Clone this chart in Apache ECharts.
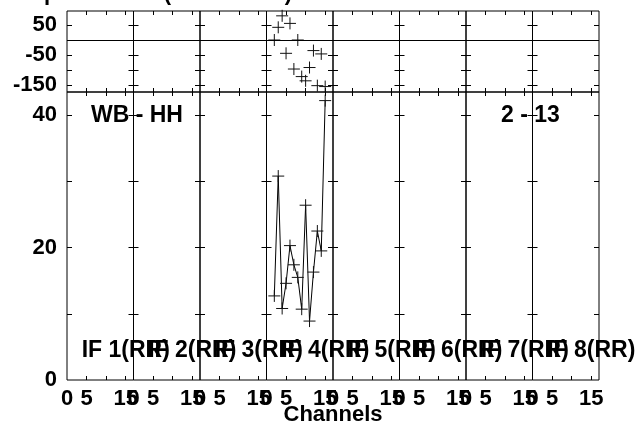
<!DOCTYPE html>
<html><head><meta charset="utf-8">
<script src="https://cdn.jsdelivr.net/npm/echarts@6/dist/echarts.min.js"></script>
<style>html,body{margin:0;padding:0;background:#fff}#c{width:642px;height:432px}</style>
</head><body><div id="c"></div>
<script>
// ---- data ----
const ifNumbers = [1, 2, 3, 4, 5, 6, 7, 8];
const ifPolarizations = ['RR', 'RR', 'RR', 'RR', 'RR', 'RR', 'RR', 'RR'];
const dataIF = 4;
const channels = [2, 3, 4, 5, 6, 7, 8, 9, 10, 11, 12, 13, 14, 15];
const amplitude = [12.7, 30.8, 10.8, 14.6, 20.3, 17.4, 15.5, 10.7, 26.4, 8.9, 16.3, 22.5, 19.5, 42.2];
const phase = [0, 42, 80, -44, 55, -96, 0, -121, -135, -91, -35, -151, -46, -154];
const channelTicks = [5, 10, 15];
const channelLabels = [0, 5, 15];
const ampTicks = [10, 20, 30, 40];
const ampLabels = [0, 20, 40];
const phaseTicks = [50, 0, -50, -100, -150];
const phaseLabels = [50, -50, -150];
const channelRange = [0, 17];
const ampRange = [0, 43.5];
const phaseRange = [-172, 96];
const titleText = 'Phase and Amp and B: IF (BP mode 1)';
const xAxisName = 'Channels';
const baselineLabel = 'WB - HH';
const timeLabel = '2 - 13';

// ---- layout ----
const L = 67, PW = 66.5, TOP1 = 11, H1 = 81, TOP2 = 92, H2 = 288;
const FONT = '"Liberation Sans", Arial, Helvetica, sans-serif';
const nP = ifNumbers.length;

const grid = [], xAxis = [], yAxis = [], series = [];
const crossSymbol = 'path://M5,0L5,10M0,5L10,5';

function addPanel(row, i) {
  const g = grid.length;
  grid.push({
    left: L + PW * i, top: row === 0 ? TOP1 : TOP2, width: PW, height: row === 0 ? H1 : H2,
    show: true, borderColor: '#000', borderWidth: 1, backgroundColor: 'transparent', containLabel: false
  });
  const isBottom = row === 1;
  const tick = (vals, len) => ({ show: true, inside: true, length: len, customValues: vals, lineStyle: { color: '#000', width: 1 } });
  xAxis.push({
    gridIndex: g, type: 'value', position: 'bottom', min: channelRange[0], max: channelRange[1],
    axisLine: { show: false, onZero: false }, splitLine: { show: false },
    axisTick: tick(channelTicks, 4),
    axisLabel: isBottom ? { show: true, customValues: channelLabels, showMinLabel: true, showMaxLabel: true, margin: 8, color: '#000', fontSize: 22, fontWeight: 'bold', fontFamily: FONT } : { show: false }
  });
  xAxis.push({
    gridIndex: g, type: 'value', position: 'top', min: channelRange[0], max: channelRange[1],
    axisLine: { show: false, onZero: false }, splitLine: { show: false },
    axisTick: tick(channelTicks, 4),
    axisLabel: { show: false }
  });
  const rng = row === 0 ? phaseRange : ampRange;
  const tks = row === 0 ? phaseTicks : ampTicks;
  const lbs = row === 0 ? phaseLabels : ampLabels;
  yAxis.push({
    gridIndex: g, type: 'value', position: 'left', min: rng[0], max: rng[1],
    axisLine: { show: false, onZero: false }, splitLine: { show: false },
    axisTick: tick(tks, 5),
    axisLabel: i === 0 ? { show: true, customValues: lbs, showMinLabel: true, showMaxLabel: true, margin: 10, color: '#000', fontSize: 22, fontWeight: 'bold', fontFamily: FONT, padding: row === 0 ? [4, 0, 0, 0] : 0 } : { show: false }
  });
  yAxis.push({
    gridIndex: g, type: 'value', position: 'right', min: rng[0], max: rng[1],
    axisLine: { show: false, onZero: false }, splitLine: { show: false },
    axisTick: tick(tks, 5),
    axisLabel: { show: false }
  });
  return g;
}

const topIdx = [], botIdx = [];
for (let i = 0; i < nP; i++) topIdx.push(addPanel(0, i));
for (let i = 0; i < nP; i++) botIdx.push(addPanel(1, i));

// zero-phase reference line in every top panel
for (let i = 0; i < nP; i++) {
  const g = topIdx[i];
  series.push({
    type: 'line', xAxisIndex: 2 * g, yAxisIndex: 2 * g, data: [], silent: true,
    markLine: { silent: true, symbol: ['none', 'none'], animation: false, label: { show: false },
      lineStyle: { color: '#000', type: 'solid', width: 1 }, data: [{ yAxis: 0 }] }
  });
}

const di = ifNumbers.indexOf(dataIF);
const gTop = topIdx[di], gBot = botIdx[di];
series.push({
  type: 'scatter', xAxisIndex: 2 * gTop, yAxisIndex: 2 * gTop,
  data: channels.map((c, k) => [c, phase[k]]),
  symbol: crossSymbol, symbolSize: 12,
  itemStyle: { color: 'none', borderColor: '#111', borderWidth: 1, opacity: 1 },
  clip: false
});
series.push({
  type: 'line', xAxisIndex: 2 * gBot, yAxisIndex: 2 * gBot,
  data: channels.map((c, k) => [c, amplitude[k]]),
  symbol: crossSymbol, symbolSize: 12, showAllSymbol: true,
  lineStyle: { color: '#000', width: 1 },
  itemStyle: { color: 'none', borderColor: '#111', borderWidth: 1 },
  clip: false
});

const tfont = 'bold 22px ' + FONT;
const ifont = 'bold 23px ' + FONT;
const graphic = [
  { type: 'text', x: 292, y: 5, style: { text: titleText, font: tfont, fill: '#000', align: 'right', verticalAlign: 'bottom' } },
  { type: 'text', x: 91, y: 116, style: { text: baselineLabel, font: ifont, fill: '#000', align: 'left', verticalAlign: 'middle' } },
  { type: 'text', x: 501, y: 116, style: { text: timeLabel, font: ifont, fill: '#000', align: 'left', verticalAlign: 'middle' } },
  { type: 'text', x: L + PW * nP / 2, y: 415, style: { text: xAxisName, font: tfont, fill: '#000', align: 'center', verticalAlign: 'middle' } }
];
ifNumbers.forEach((n, i) => {
  graphic.push({ type: 'text', x: L + PW * i + 14.7, y: 351,
    style: { text: 'IF ' + n + '(' + ifPolarizations[i] + ')', font: ifont, fill: '#000', align: 'left', verticalAlign: 'middle' } });
});

const chart = echarts.init(document.getElementById('c'), null, { renderer: 'canvas' });
chart.setOption({ animation: false, backgroundColor: '#fff', grid, xAxis, yAxis, series, graphic });
</script></body></html>
